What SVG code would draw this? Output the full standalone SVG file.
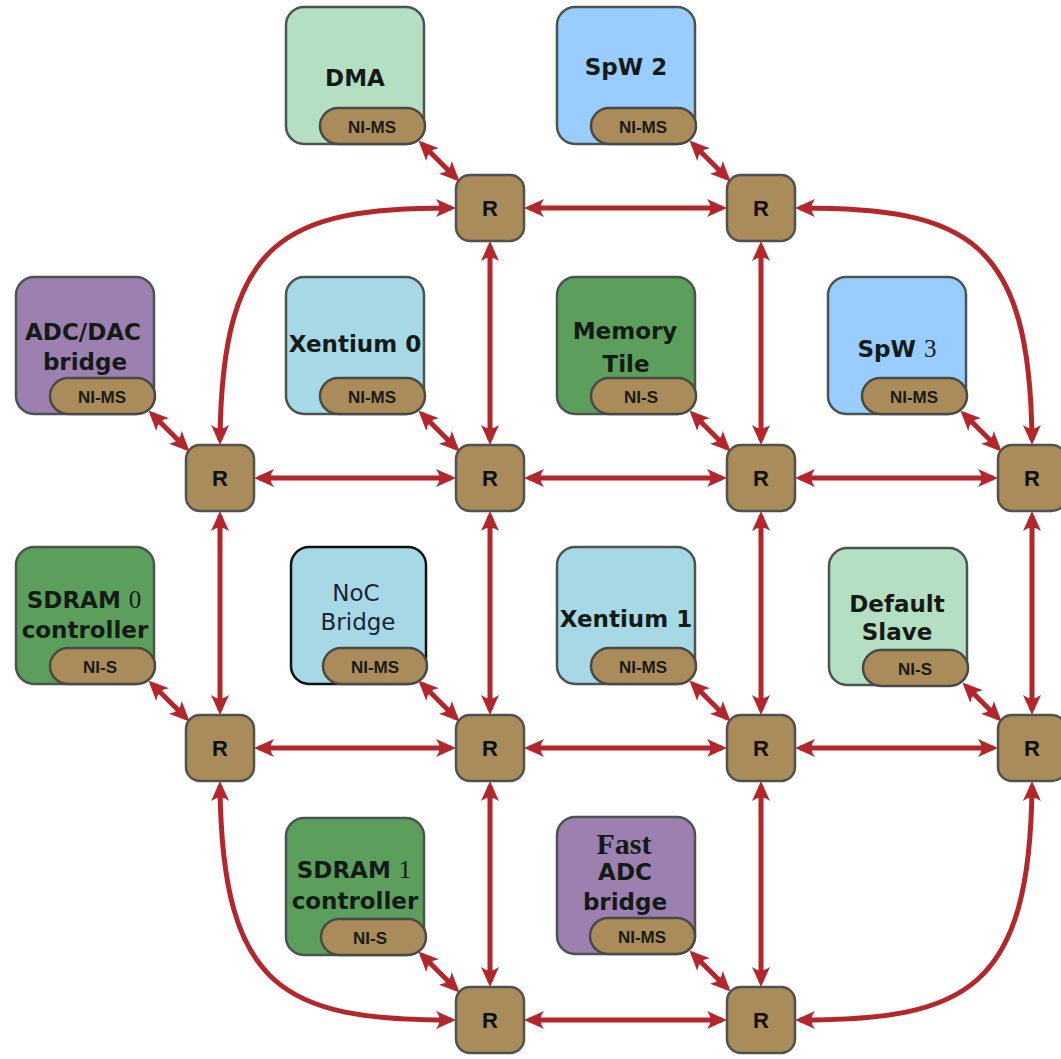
<svg xmlns="http://www.w3.org/2000/svg" width="1061" height="1059" viewBox="0 0 1061 1059">
<style>
.box{stroke:#4a554f;stroke-width:2.5}
.mint{fill:#b4dfc2}
.blue{fill:#99ccff}
.purple{fill:#9c80b0}
.cyan{fill:#a7d8e6}
.green{fill:#5c9f5c}
.pill{fill:#a98c5a;stroke:#4a4a44;stroke-width:2.5}
.router{fill:#a98c5a;stroke:#4f524d;stroke-width:2.5}
.lbl{font-family:"DejaVu Sans",sans-serif;font-weight:bold;font-size:23px;fill:#141a16;text-anchor:middle}
.ni{font-family:"Liberation Sans",Arial,sans-serif;font-weight:bold;font-size:17px;fill:#1a1a14;text-anchor:middle}
.rl{font-family:"Liberation Sans",Arial,sans-serif;font-weight:bold;font-size:22px;fill:#111;text-anchor:middle}
.serif{font-family:"Liberation Serif",serif;font-weight:normal;font-size:25px}
.link{fill:none;stroke:#b3262b;stroke-width:5;marker-start:url(#ah);marker-end:url(#ah)}
</style>
<defs>
<marker id="ah" viewBox="-22 -11 24 22" markerWidth="24" markerHeight="22" refX="-5" refY="0" orient="auto-start-reverse" markerUnits="userSpaceOnUse">
<path d="M0,0 L-20,-9 Q-13,0 -20,9 Z" fill="#b3262b"/>
</marker>
</defs>
<rect width="1061" height="1059" fill="#ffffff"/>

<g id="nodes">
<g id="dma">
<rect class="box mint" x="286" y="7" width="138" height="137" rx="18"/>
<text class="lbl" x="355" y="86">DMA</text>
<rect class="pill" x="320" y="108" width="105" height="36" rx="18"/>
<text class="ni" x="372" y="133">NI-MS</text>
</g>
<g id="spw2">
<rect class="box blue" x="557" y="7" width="138" height="137" rx="18"/>
<text class="lbl" x="626" y="75">SpW 2</text>
<rect class="pill" x="591" y="108" width="105" height="36" rx="18"/>
<text class="ni" x="643" y="133">NI-MS</text>
</g>
<g id="adcdac">
<rect class="box purple" x="16" y="277" width="138" height="137" rx="18"/>
<text class="lbl" x="83" y="340">ADC/DAC</text>
<text class="lbl" x="85" y="370">bridge</text>
<rect class="pill" x="50" y="378" width="105" height="36" rx="18"/>
<text class="ni" x="102" y="403">NI-MS</text>
</g>
<g id="xentium0">
<rect class="box cyan" x="286" y="277" width="138" height="137" rx="18"/>
<text class="lbl" x="355" y="352">Xentium 0</text>
<rect class="pill" x="320" y="378" width="105" height="36" rx="18"/>
<text class="ni" x="372" y="403">NI-MS</text>
</g>
<g id="memtile">
<rect class="box green" x="557" y="277" width="138" height="137" rx="18"/>
<text class="lbl" x="625" y="339">Memory</text>
<text class="lbl" x="626" y="372">Tile</text>
<rect class="pill" x="591" y="378" width="105" height="36" rx="18"/>
<text class="ni" x="641" y="403">NI-S</text>
</g>
<g id="spw3">
<rect class="box blue" x="828" y="277" width="138" height="137" rx="18"/>
<text class="lbl" x="897" y="357">SpW <tspan class="serif">3</tspan></text>
<rect class="pill" x="862" y="378" width="105" height="36" rx="18"/>
<text class="ni" x="914" y="403">NI-MS</text>
</g>
<g id="sdram0">
<rect class="box green" x="16" y="547" width="138" height="137" rx="18"/>
<text class="lbl" x="84" y="608">SDRAM <tspan class="serif">0</tspan></text>
<text class="lbl" x="85" y="638">controller</text>
<rect class="pill" x="50" y="648" width="105" height="36" rx="18"/>
<text class="ni" x="100" y="673">NI-S</text>
</g>
<g id="nocbridge">
<rect class="box cyan" x="291" y="547" width="135" height="137" rx="18" style="stroke:#111"/>
<text class="lbl" x="356" y="601" style="font-weight:normal;fill:#1a2438">NoC</text>
<text class="lbl" x="358" y="630" style="font-weight:normal;fill:#1a2438">Bridge</text>
<rect class="pill" x="323" y="648" width="104" height="36" rx="18"/>
<text class="ni" x="375" y="673">NI-MS</text>
</g>
<g id="xentium1">
<rect class="box cyan" x="557" y="547" width="138" height="137" rx="18"/>
<text class="lbl" x="626" y="627">Xentium 1</text>
<rect class="pill" x="591" y="648" width="105" height="36" rx="18"/>
<text class="ni" x="643" y="673">NI-MS</text>
</g>
<g id="defaultslave">
<rect class="box mint" x="829" y="548" width="138" height="137" rx="18"/>
<text class="lbl" x="897" y="612">Default</text>
<text class="lbl" x="897" y="640">Slave</text>
<rect class="pill" x="863" y="650" width="105" height="36" rx="18"/>
<text class="ni" x="915" y="675">NI-S</text>
</g>
<g id="sdram1">
<rect class="box green" x="286" y="818" width="138" height="137" rx="18"/>
<text class="lbl" x="354" y="878">SDRAM <tspan class="serif">1</tspan></text>
<text class="lbl" x="355" y="909">controller</text>
<rect class="pill" x="321" y="919" width="105" height="36" rx="18"/>
<text class="ni" x="370" y="944">NI-S</text>
</g>
<g id="fastadc">
<rect class="box purple" x="557" y="817" width="138" height="137" rx="18"/>
<text class="lbl" x="624" y="854"><tspan class="serif" style="font-size:30px;font-weight:bold">Fast</tspan></text>
<text class="lbl" x="625" y="880">ADC</text>
<text class="lbl" x="625" y="910">bridge</text>
<rect class="pill" x="590" y="918" width="105" height="36" rx="18"/>
<text class="ni" x="642" y="943">NI-MS</text>
</g>

<g id="r00"><rect class="router" x="456" y="175" width="68" height="66" rx="14"/><text class="rl" x="490" y="216">R</text></g>
<g id="r01"><rect class="router" x="727" y="175" width="68" height="66" rx="14"/><text class="rl" x="761" y="216">R</text></g>
<g id="r10"><rect class="router" x="186" y="445" width="68" height="66" rx="14"/><text class="rl" x="220" y="486">R</text></g>
<g id="r11"><rect class="router" x="456" y="445" width="68" height="66" rx="14"/><text class="rl" x="490" y="486">R</text></g>
<g id="r12"><rect class="router" x="727" y="445" width="68" height="66" rx="14"/><text class="rl" x="761" y="486">R</text></g>
<g id="r13"><rect class="router" x="998" y="445" width="68" height="66" rx="14"/><text class="rl" x="1032" y="486">R</text></g>
<g id="r20"><rect class="router" x="186" y="715" width="68" height="66" rx="14"/><text class="rl" x="220" y="756">R</text></g>
<g id="r21"><rect class="router" x="456" y="715" width="68" height="66" rx="14"/><text class="rl" x="490" y="756">R</text></g>
<g id="r22"><rect class="router" x="727" y="715" width="68" height="66" rx="14"/><text class="rl" x="761" y="756">R</text></g>
<g id="r23"><rect class="router" x="998" y="715" width="68" height="66" rx="14"/><text class="rl" x="1032" y="756">R</text></g>
<g id="r30"><rect class="router" x="456" y="987" width="68" height="66" rx="14"/><text class="rl" x="490" y="1028">R</text></g>
<g id="r31"><rect class="router" x="727" y="987" width="68" height="66" rx="14"/><text class="rl" x="761" y="1028">R</text></g>
</g>

<g id="connectors">
<path class="link" d="M529 208 H722"/>
<path class="link" d="M259 478 H451"/>
<path class="link" d="M529 478 H722"/>
<path class="link" d="M800 478 H993"/>
<path class="link" d="M259 748 H451"/>
<path class="link" d="M529 748 H722"/>
<path class="link" d="M800 748 H993"/>
<path class="link" d="M529 1020 H722"/>
<path class="link" d="M490 246 V440"/>
<path class="link" d="M490 516 V710"/>
<path class="link" d="M490 786 V982"/>
<path class="link" d="M761 246 V440"/>
<path class="link" d="M761 516 V710"/>
<path class="link" d="M761 786 V982"/>
<path class="link" d="M220 516 V710"/>
<path class="link" d="M1032 516 V710"/>
<path class="link" d="M451 208 C285 208 222 238 220 440"/>
<path class="link" d="M800 208 C966 208 1030 238 1032 440"/>
<path class="link" d="M220 786 C222 990 285 1020 451 1020"/>
<path class="link" d="M1032 786 C1030 990 966 1020 800 1020"/>
<path class="link" d="M422 144 L456 178"/>
<path class="link" d="M693 144 L727 178"/>
<path class="link" d="M152 414 L186 448"/>
<path class="link" d="M422 414 L456 448"/>
<path class="link" d="M693 414 L727 448"/>
<path class="link" d="M964 414 L998 448"/>
<path class="link" d="M152 684 L186 718"/>
<path class="link" d="M422 684 L456 718"/>
<path class="link" d="M693 684 L727 718"/>
<path class="link" d="M966 686 L998 718"/>
<path class="link" d="M422 955 L456 989"/>
<path class="link" d="M693 954 L727 988"/>
</g>
</svg>
